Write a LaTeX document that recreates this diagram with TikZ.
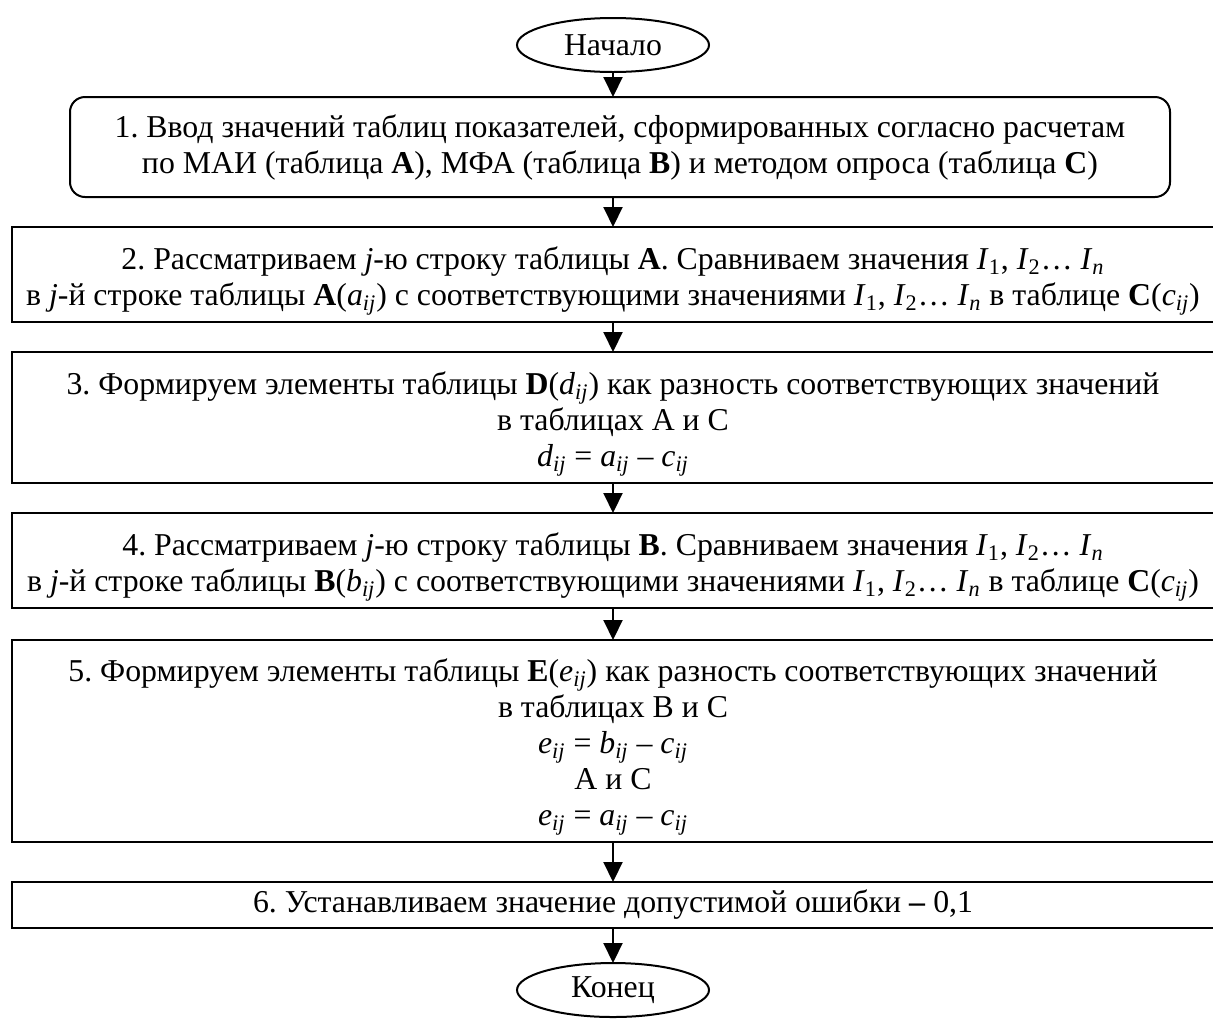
\documentclass[tikz,border=0pt]{standalone}
\usepackage{fontspec}
\setmainfont{Liberation Serif}
\usetikzlibrary{shapes.geometric,arrows.meta}
% italic subscript ij and indexed I
\newcommand\sij{\textsubscript{\textit{ij}}}
\newcommand\Iv[1]{\textit{I}\textsubscript{#1}}
% tall strut that sets the text block a little lower in its box
\newcommand\topstrut{\rule{0pt}{17.5pt}}
\frenchspacing
\begin{document}
\begin{tikzpicture}[x=0.5pt,y=-0.5pt,
  every node/.style={font=\fontsize{15.9}{18}\selectfont, inner sep=0pt, outer sep=0pt},
  term/.style={draw, line width=1pt, ellipse, minimum width=96pt, minimum height=27pt},
  stepbox/.style={draw, line width=1pt, rectangle, align=center, minimum width=601pt},
  inbox/.style={draw, line width=1pt, rectangle, rounded corners=7.5pt, align=center,
    minimum width=550pt, minimum height=50pt},
  arr/.style={line width=1pt, -{Triangle[length=10pt,width=9.5pt]}}]
\useasboundingbox (0,0) rectangle (1213,1018);

\node[term] (start) at (613,45) {Начало};

\node[inbox] (b1) at (620,147)
  {1. Ввод значений таблиц показателей, сформированных согласно расчетам\\
   по МАИ (таблица \textbf{A}), МФА (таблица \textbf{B}) и методом опроса (таблица \textbf{C})};

\node[stepbox, minimum height=47.5pt] (b2) at (613,274.5)
  {\topstrut 2. Рассматриваем \textit{j}-ю строку таблицы \textbf{A}. Сравниваем значения \Iv{1}, \Iv{2}… \Iv{\textit{n}}\\
   в \textit{j}-й строке таблицы \textbf{A}(\textit{a}\sij) с соответствующими значениями \Iv{1}, \Iv{2}… \Iv{\textit{n}} в таблице \textbf{C}(\textit{c}\sij)};

\node[stepbox, minimum height=65.5pt] (b3) at (613,417.5)
  {\topstrut 3. Формируем элементы таблицы \textbf{D}(\textit{d}\sij) как разность соответствующих значений\\
   в таблицах А и С\\
   \textit{d}\sij{} = \textit{a}\sij{} – \textit{c}\sij};

\node[stepbox, minimum height=47.5pt] (b4) at (613,560.5)
  {\topstrut 4. Рассматриваем \textit{j}-ю строку таблицы \textbf{B}. Сравниваем значения \Iv{1}, \Iv{2}… \Iv{\textit{n}}\\
   в \textit{j}-й строке таблицы \textbf{B}(\textit{b}\sij) с соответствующими значениями \Iv{1}, \Iv{2}… \Iv{\textit{n}} в таблице \textbf{C}(\textit{c}\sij)};

\node[stepbox, minimum height=101pt] (b5) at (613,741)
  {\topstrut 5. Формируем элементы таблицы \textbf{E}(\textit{e}\sij) как разность соответствующих значений\\
   в таблицах В и С\\
   \textit{e}\sij{} = \textit{b}\sij{} – \textit{c}\sij\\
   А и С\\
   \textit{e}\sij{} = \textit{a}\sij{} – \textit{c}\sij};

\node[stepbox, minimum height=23pt] (b6) at (613,905)
  {6. Устанавливаем значение допустимой ошибки \textbf{–} 0,1};

\node[term] (stop) at (613,990) {Конец};

\draw[arr] (start.south) -- (start.south |- b1.north);
\draw[arr] (b1.south -| b2.north) -- (b2.north);
\draw[arr] (b2.south) -- (b3.north);
\draw[arr] (b3.south) -- (b4.north);
\draw[arr] (b4.south) -- (b5.north);
\draw[arr] (b5.south) -- (b6.north);
\draw[arr] (b6.south) -- (stop.north);
\end{tikzpicture}
\end{document}
